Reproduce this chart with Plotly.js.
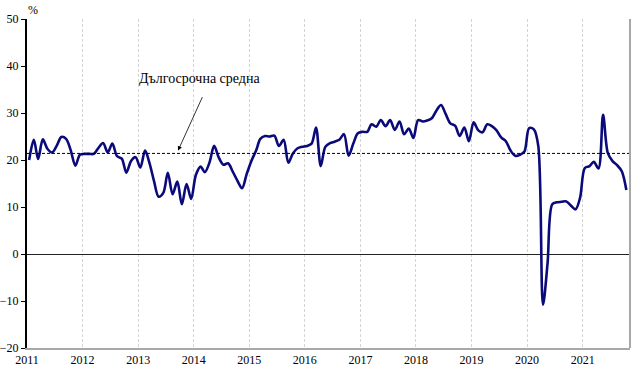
<!DOCTYPE html>
<html>
<head>
<meta charset="utf-8">
<script src="https://cdn.plot.ly/plotly-3.0.1.min.js"></script>
<style>
  html, body { margin: 0; padding: 0; background: #ffffff; }
  #chart { width: 641px; height: 383px; }
</style>
</head>
<body>
<div id="chart"></div>
<script>
// Monthly values (%), one array per year
const years = [2011, 2012, 2013, 2014, 2015, 2016, 2017, 2018, 2019, 2020, 2021];
const v2011 = [20.0, 24.3, 20.2, 24.4, 22.4, 21.6, 23.0, 24.9, 24.5, 22.1, 18.8, 21.1];
const v2012 = [21.3, 21.3, 21.3, 22.6, 23.6, 21.6, 23.5, 20.8, 20.3, 17.3, 19.8, 20.6];
const v2013 = [18.4, 22.0, 19.5, 15.5, 12.2, 13.0, 17.3, 12.7, 15.4, 10.6, 14.9, 11.7];
const v2014 = [16.8, 18.6, 17.4, 19.5, 23.0, 20.5, 19.0, 19.3, 17.5, 15.6, 14.0, 17.0];
const v2015 = [19.8, 22.0, 24.5, 25.1, 25.0, 25.2, 23.0, 24.3, 19.4, 21.4, 22.5, 22.8];
const v2016 = [23.0, 23.5, 26.9, 18.7, 22.8, 23.6, 23.9, 24.3, 25.5, 20.9, 23.5, 25.7];
const v2017 = [26.0, 26.0, 27.6, 27.1, 28.5, 27.2, 28.5, 26.4, 28.2, 25.5, 26.7, 24.7];
const v2018 = [28.5, 28.2, 28.4, 28.9, 30.5, 31.7, 29.8, 27.8, 27.3, 25.1, 26.9, 24.0];
const v2019 = [28.0, 26.3, 25.9, 27.6, 27.2, 26.3, 24.8, 24.0, 22.0, 20.9, 21.1, 21.8];
const v2020 = [26.8, 26.5, 23.0, -10.8, -2.0, 10.6, 11.0, 11.1, 11.2, 10.3, 9.5, 12.0];
const v2021 = [18.3, 18.7, 19.6, 18.2, 29.6, 21.5, 19.8, 18.9, 17.6, 13.6];
const yearValues = [v2011, v2012, v2013, v2014, v2015, v2016, v2017, v2018, v2019, v2020, v2021];

const longTermAverage = 21.4;
const averageLabel = "Дългосрочна средна";
const yTicks = [-20, -10, 0, 10, 20, 30, 40, 50];
const yearLabels = years.map(String);

// Build the monthly series (observations dated mid-month)
const xs = [], ys = [];
yearValues.forEach((arr, k) => {
  arr.forEach((v, m) => {
    const mm = String(m + 1).padStart(2, "0");
    xs.push(years[k] + "-" + mm + "-15");
    ys.push(v);
  });
});

const trace = {
  x: xs, y: ys,
  type: "scatter", mode: "lines",
  line: { color: "#0a0a7a", width: 2.6, shape: "spline", smoothing: 0.9 },
  hoverinfo: "x+y", showlegend: false
};

const serif = "'Liberation Serif', 'Times New Roman', serif";

const layout = {
  width: 641, height: 383,
  margin: { l: 27, r: 11, t: 19, b: 35 },
  paper_bgcolor: "#ffffff", plot_bgcolor: "#ffffff",
  font: { family: serif, size: 12, color: "#000000" },
  showlegend: false,
  xaxis: {
    type: "date",
    range: ["2011-01-01", "2021-11-08"],
    tickvals: years.map(y => y + "-01-01"),
    ticktext: yearLabels,
    showgrid: true, gridcolor: "#d4d4d4", griddash: "3px,2px", gridwidth: 1,
    showline: true, linecolor: "#a8a8a8", linewidth: 2,
    ticks: "", zeroline: false,
    tickfont: { family: serif, size: 12, color: "#000000" }
  },
  yaxis: {
    range: [-20, 50],
    tickvals: yTicks,
    showgrid: false,
    showline: true, linecolor: "#000000", linewidth: 2,
    ticks: "outside", ticklen: 4, tickcolor: "#000000", tickwidth: 1,
    zeroline: true, zerolinecolor: "#222222", zerolinewidth: 1,
    tickfont: { family: serif, size: 12, color: "#000000" }
  },
  shapes: [
    { type: "line", xref: "paper", yref: "y", x0: 0, x1: 1,
      y0: longTermAverage, y1: longTermAverage,
      line: { color: "#000000", width: 1, dash: "3px,2px" } },
    { type: "line", xref: "paper", yref: "paper", x0: 1, x1: 1, y0: 0, y1: 1,
      line: { color: "#a8a8a8", width: 2 } }
  ],
  annotations: [
    { xref: "paper", yref: "paper", x: 0.01, y: 1.027, text: "%",
      showarrow: false, xanchor: "center", yanchor: "middle",
      font: { family: serif, size: 12, color: "#000000" } },
    { xref: "x", yref: "y", x: "2013-09-20", y: longTermAverage + 0.6, text: "",
      showarrow: true, ax: 25, ay: -55, arrowhead: 2, arrowsize: 1.1,
      arrowwidth: 0.8, arrowcolor: "#000000" },
    { xref: "x", yref: "y", x: "2014-02-10", y: 37.3, text: averageLabel,
      showarrow: false, xanchor: "center", yanchor: "middle",
      font: { family: serif, size: 14, color: "#000000" } }
  ]
};

Plotly.newPlot("chart", [trace], layout, { displayModeBar: false, staticPlot: true });
</script>
</body>
</html>
